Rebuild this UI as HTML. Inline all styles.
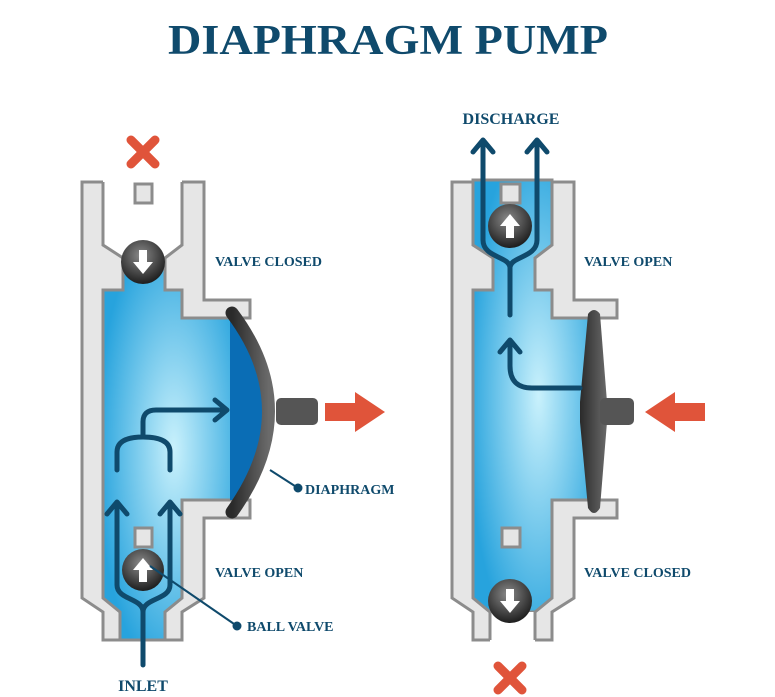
<!DOCTYPE html>
<html><head><meta charset="utf-8"><style>html,body{margin:0;padding:0;background:#fff}svg{display:block}</style></head>
<body>
<svg width="775" height="697" viewBox="0 0 775 697" xmlns="http://www.w3.org/2000/svg">
<defs>
<radialGradient id="fl" cx="0.55" cy="0.5" r="0.6"><stop offset="0" stop-color="#c9f1fc"/><stop offset="1" stop-color="#27a3dd"/></radialGradient>
<radialGradient id="ball" cx="0.45" cy="0.35" r="0.65"><stop offset="0" stop-color="#8a8a8a"/><stop offset="1" stop-color="#1e1e1e"/></radialGradient>
<linearGradient id="dg" x1="0" y1="0" x2="1" y2="0"><stop offset="0" stop-color="#2a2a2a"/><stop offset="1" stop-color="#6a6a6a"/></linearGradient>
</defs>
<text x="388" y="54" text-anchor="middle" font-family="Liberation Serif, serif" font-weight="bold" font-size="42" fill="#0f4a6c" textLength="440" lengthAdjust="spacingAndGlyphs">DIAPHRAGM PUMP</text>

<g id="L">
<path d="M82,182H204V300H250V318H232V500H250V518H204V598L182,612V640H103V612L82,598Z" fill="#e6e6e6" stroke="#8c8c8c" stroke-width="3"/>
<path d="M103,180H182V245L165,258H123L103,245Z" fill="#fff"/>
<path d="M103,182V245L123,258M182,182V245L165,258" fill="none" stroke="#8c8c8c" stroke-width="3"/>
<path d="M123,258H165V290H182V318H232V500H182V598L165,612V640H120V612L103,598V290H123Z" fill="url(#fl)" stroke="#8c8c8c" stroke-width="3"/>
<path d="M230,318H240Q292,409 240,500H230Z" fill="#0a6db5"/>
<rect x="135" y="184" width="17" height="19" fill="#e6e6e6" stroke="#8c8c8c" stroke-width="3"/>
<rect x="135" y="528" width="17" height="19" fill="#e6e6e6" stroke="#8c8c8c" stroke-width="3"/>
</g>
<path d="M232,313Q305,410 232,512" fill="none" stroke="url(#dg)" stroke-width="13" stroke-linecap="round"/>
<rect x="276" y="398" width="42" height="27" rx="5" fill="#555"/>
<polygon points="325,403 355,403 355,392 385,412 355,432 355,421 325,421" fill="#e0543a"/>
<g fill="none" stroke="#0f4a6c" stroke-width="5" stroke-linecap="round" stroke-linejoin="round">
<path d="M143,665V612C143,598 117,600 117,585V504M143,612C143,598 170,600 170,585V504"/>
<path d="M107,514L117,502L127,514M160,514L170,502L180,514"/>
<path d="M117,470V452Q117,437 143,437Q170,437 170,452V470M143,437V422Q143,410 156,410H226M215,400L227,410L215,420"/>
</g>
<circle cx="143" cy="262" r="22" fill="url(#ball)"/>
<path d="M139,250h8v12h6l-10,12l-10,-12h6z" fill="#fff"/>
<circle cx="143" cy="570" r="21" fill="url(#ball)"/>
<path d="M139,582h8v-12h6l-10,-12l-10,12h6z" fill="#fff"/>
<g stroke="#0f4a6c" stroke-width="2" fill="#0f4a6c">
<line x1="270" y1="470" x2="298" y2="488"/><circle cx="298" cy="488" r="3.5"/>
<line x1="150" y1="566" x2="237" y2="626"/><circle cx="237" cy="626" r="3.5"/>
</g>
<g stroke="#e0543a" stroke-width="9" stroke-linecap="round"><line x1="131" y1="140" x2="155" y2="164"/><line x1="155" y1="140" x2="131" y2="164"/>
<line x1="498" y1="666" x2="522" y2="690"/><line x1="522" y1="666" x2="498" y2="690"/></g>

<g transform="translate(370,0)">
<path d="M82,182H204V300H247V318H222V500H247V518H204V598L182,612V640H103V612L82,598Z" fill="#e6e6e6" stroke="#8c8c8c" stroke-width="3"/>
<path d="M103,180H182V245L165,258V290H182V318H222V500H182V598L165,612H120L103,598V290H123V258L103,245Z" fill="url(#fl)" stroke="#8c8c8c" stroke-width="3"/>
<path d="M120,612H165V642H120Z" fill="#fff"/>
<path d="M120,612V640M165,612V640" stroke="#8c8c8c" stroke-width="3"/>
<rect x="131" y="184" width="19" height="19" fill="#e6e6e6" stroke="#8c8c8c" stroke-width="3"/>
<rect x="132" y="528" width="18" height="19" fill="#e6e6e6" stroke="#8c8c8c" stroke-width="3"/>
</g>
<path d="M588,314Q594,306 600,314L607,402V422L600,508Q594,518 588,508L580,422V402Z" fill="url(#dg)"/>
<rect x="600" y="398" width="34" height="27" rx="5" fill="#555"/>
<polygon points="705,403 675,403 675,392 645,412 675,432 675,421 705,421" fill="#e0543a"/>
<g fill="none" stroke="#0f4a6c" stroke-width="5" stroke-linecap="round" stroke-linejoin="round">
<path d="M510,315V268C510,256 483,258 483,240V142M510,268C510,256 537,258 537,240V142"/>
<path d="M473,152L483,140L493,152M527,152L537,140L547,152"/>
<path d="M580,388H532Q510,388 510,366V342M500,352L510,340L520,352"/>
</g>
<circle cx="510" cy="226" r="22" fill="url(#ball)"/>
<path d="M506,238h8v-12h6l-10,-12l-10,12h6z" fill="#fff"/>
<circle cx="510" cy="601" r="22" fill="url(#ball)"/>
<path d="M506,589h8v12h6l-10,12l-10,-12h6z" fill="#fff"/>

<g font-family="Liberation Serif, serif" font-weight="bold" font-size="14" fill="#0f4a6c">
<text x="215" y="266">VALVE CLOSED</text>
<text x="305" y="494">DIAPHRAGM</text>
<text x="215" y="577">VALVE OPEN</text>
<text x="247" y="631">BALL VALVE</text>
<text x="143" y="691" text-anchor="middle" font-size="16">INLET</text>
<text x="511" y="124" text-anchor="middle" font-size="16">DISCHARGE</text>
<text x="584" y="266">VALVE OPEN</text>
<text x="584" y="577">VALVE CLOSED</text>
</g>
</svg>
</body></html>
